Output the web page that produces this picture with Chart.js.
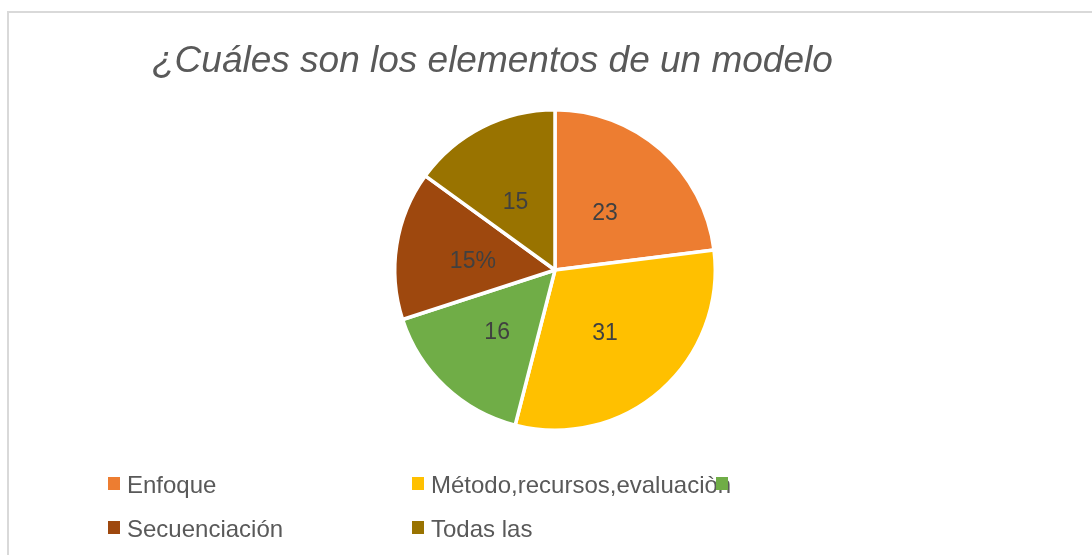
<!DOCTYPE html>
<html>
<head>
<meta charset="utf-8">
<script src="https://cdn.jsdelivr.net/npm/chart.js@4"></script>
<style>
  html, body { margin: 0; padding: 0; background: #fff; }
  #wrap { width: 1092px; height: 555px; position: relative; }
</style>
</head>
<body>
<div id="wrap"><canvas id="pieChart"></canvas></div>
<script>
const title = "¿Cuáles son los elementos de un modelo";

// legend names (the third one has no text in the original)
const categories = ["Enfoque", "Método,recursos,evaluaciòn", "", "Secuenciación", "Todas las"];
const values = [23, 31, 16, 15, 15];
// suffix shown after the value in the slice label
const valueSuffix = ["", "", "", "%", ""];
const colors = ["#ED7D31", "#FFC000", "#70AD47", "#9E480E", "#997300"];

const FONT = "'Liberation Sans', Arial, sans-serif";

// light frame round the chart (left and top edges show)
const framePlugin = {
  id: "frame",
  beforeDraw(chart) {
    let ctx = chart.ctx;
    ctx.save();
    ctx.strokeStyle = "#d9d9d9";
    ctx.lineWidth = 2;
    ctx.beginPath();
    ctx.moveTo(8, chart.height);
    ctx.lineTo(8, 12);
    ctx.lineTo(chart.width, 12);
    ctx.stroke();
    ctx.restore();
  },
};

// title, value labels and grid legend
const textPlugin = {
  id: "texts",
  afterDatasetsDraw(chart) {
    let ctx = chart.ctx;
    ctx.save();

    ctx.fillStyle = "#595959";
    ctx.font = "italic 37px " + FONT;
    ctx.textAlign = "left";
    ctx.textBaseline = "middle";
    ctx.fillText(title, 152, 62);

    // value labels in the middle of each slice
    let meta = chart.getDatasetMeta(0);
    ctx.font = "23px " + FONT;
    ctx.fillStyle = "#404040";
    ctx.textAlign = "center";
    meta.data.forEach((arc, i) => {
      let p = arc.tooltipPosition();
      ctx.fillText(values[i] + valueSuffix[i], p.x - 3, p.y + 4);
    });

    // legend: 3 columns
    ctx.textAlign = "left";
    ctx.font = "24px " + FONT;
    categories.forEach((name, i) => {
      let col = i % 3;
      let row = Math.floor(i / 3);
      let x = 108 + col * 304;
      let y = 486 + row * 44;
      ctx.fillStyle = colors[i];
      ctx.fillRect(x, y - 9, 12, 13);
      ctx.fillStyle = "#595959";
      ctx.fillText(name, x + 19, y);
    });

    ctx.restore();
  },
};

new Chart(document.getElementById("pieChart"), {
  type: "pie",
  data: {
    labels: categories,
    datasets: [
      {
        data: values,
        backgroundColor: colors,
        borderColor: "#ffffff",
        borderWidth: 3.5,
      },
    ],
  },
  options: {
    responsive: true,
    maintainAspectRatio: false,
    animation: false,
    layout: { padding: { top: 108, bottom: 123, left: 18, right: 0 } },
    plugins: {
      legend: { display: false },
      tooltip: { enabled: false },
    },
  },
  plugins: [framePlugin, textPlugin],
});
</script>
</body>
</html>
